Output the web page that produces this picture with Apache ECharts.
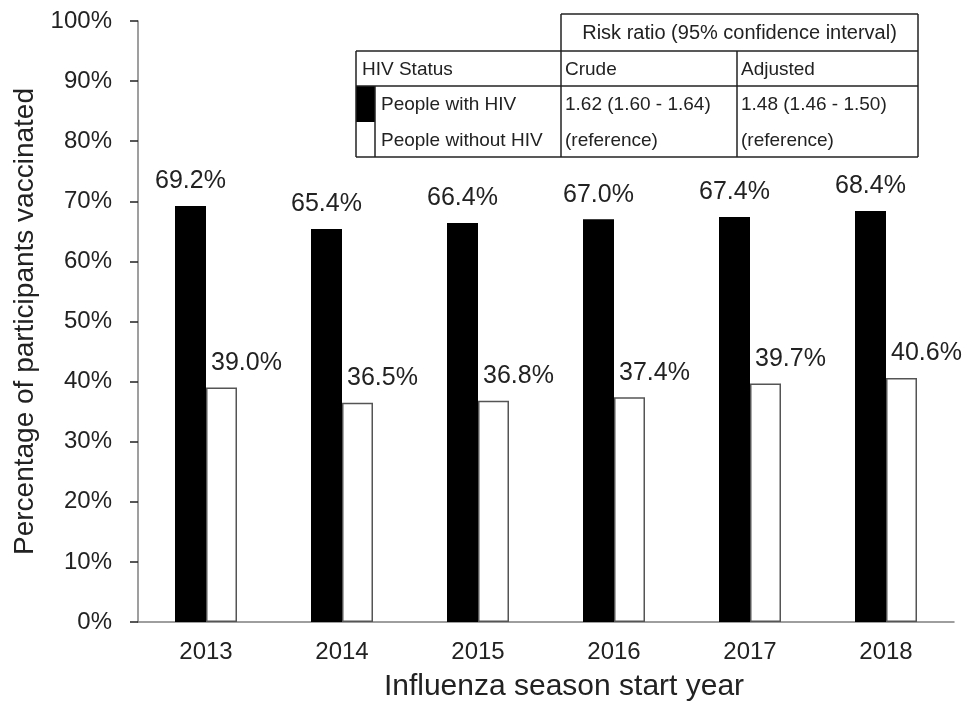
<!DOCTYPE html>
<html>
<head>
<meta charset="utf-8">
<script src="https://cdn.jsdelivr.net/npm/echarts@6/dist/echarts.min.js"></script>
<style>
  html, body { margin: 0; padding: 0; background: #fff; }
  #chart { width: 967px; height: 707px; }
</style>
</head>
<body>
<div id="chart"></div>
<script>
const years = ['2013', '2014', '2015', '2016', '2017', '2018'];
const withHiv = [69.2, 65.4, 66.4, 67.0, 67.4, 68.4];
const withoutHiv = [39.0, 36.5, 36.8, 37.4, 39.7, 40.6];

// table next to the bars (risk ratios)
const tableHeader = 'Risk ratio (95% confidence interval)';
const tableColumns = ['HIV Status', 'Crude', 'Adjusted'];
const tableRows = [
  ['People with HIV', '1.62 (1.60 - 1.64)', '1.48 (1.46 - 1.50)'],
  ['People without HIV', '(reference)', '(reference)'],
];

const FONT = 'Liberation Sans, Arial, sans-serif';
const chart = echarts.init(document.getElementById('chart'));

// table geometry in px
const tx = [356, 375, 561, 737, 918];
const ty = [14, 51, 86, 122, 157];
const line = (x1, y1, x2, y2) => ({
  type: 'line',
  shape: { x1, y1, x2, y2 },
  style: { stroke: '#222', lineWidth: 1.5 },
});
const txt = (x, y, s, align, size) => ({
  type: 'text',
  x,
  y,
  style: {
    text: s,
    font: (size || 19) + 'px ' + FONT,
    fill: '#222',
    align: align || 'left',
    verticalAlign: 'middle',
  },
});

const tableGraphics = [
  // swatches
  { type: 'rect', shape: { x: tx[0], y: ty[2], width: tx[1] - tx[0], height: ty[3] - ty[2] }, style: { fill: '#000' } },
  { type: 'rect', shape: { x: tx[0], y: ty[3], width: tx[1] - tx[0], height: ty[4] - ty[3] }, style: { fill: '#fff' } },
  // horizontal lines
  line(tx[2], ty[0], tx[4], ty[0]),
  line(tx[0], ty[1], tx[4], ty[1]),
  line(tx[0], ty[2], tx[4], ty[2]),
  line(tx[0], ty[4], tx[4], ty[4]),
  // vertical lines
  line(tx[0], ty[1], tx[0], ty[4]),
  line(tx[1], ty[2], tx[1], ty[4]),
  line(tx[2], ty[0], tx[2], ty[4]),
  line(tx[3], ty[1], tx[3], ty[4]),
  line(tx[4], ty[0], tx[4], ty[4]),
  // texts
  txt((tx[2] + tx[4]) / 2, (ty[0] + ty[1]) / 2 + 1, tableHeader, 'center', 20),
  txt(tx[0] + 6, (ty[1] + ty[2]) / 2 + 1, tableColumns[0]),
  txt(tx[2] + 4, (ty[1] + ty[2]) / 2 + 1, tableColumns[1]),
  txt(tx[3] + 4, (ty[1] + ty[2]) / 2 + 1, tableColumns[2]),
];
tableRows.forEach((row, i) => {
  const cy = (ty[2 + i] + ty[3 + i]) / 2 + 1;
  tableGraphics.push(txt(tx[1] + 6, cy, row[0]));
  tableGraphics.push(txt(tx[2] + 4, cy, row[1]));
  tableGraphics.push(txt(tx[3] + 4, cy, row[2]));
});

const option = {
  backgroundColor: '#fff',
  animation: false,
  textStyle: { fontFamily: FONT },
  grid: { left: 138, right: 13, top: 21, bottom: 84 },
  xAxis: {
    type: 'category',
    data: years,
    name: 'Influenza season start year',
    nameLocation: 'middle',
    nameGap: 50,
    nameTextStyle: { fontSize: 30, color: '#222', padding: [0, 0, 0, 36] },
    axisLine: { lineStyle: { color: '#7f7f7f', width: 1.5 } },
    axisTick: { alignWithLabel: true, length: 6, lineStyle: { color: '#222', width: 1.5 } },
    axisLabel: { fontSize: 24, color: '#222', margin: 18 },
  },
  yAxis: {
    type: 'value',
    min: 0,
    max: 100,
    interval: 10,
    name: 'Percentage of participants vaccinated',
    nameLocation: 'middle',
    nameGap: 98,
    nameTextStyle: { fontSize: 28, color: '#222' },
    axisLine: { show: true, lineStyle: { color: '#7f7f7f', width: 1.5 } },
    axisTick: { show: true, length: 8, lineStyle: { color: '#222', width: 1.5 } },
    axisLabel: { fontSize: 24, color: '#222', margin: 26, formatter: '{value}%' },
    splitLine: { show: false },
  },
  series: [
    {
      name: 'People with HIV',
      type: 'bar',
      data: withHiv,
      barWidth: 31,
      barGap: '0%',
      itemStyle: { color: '#000' },
      label: {
        show: true,
        position: 'top',
        distance: 12,
        fontSize: 25,
        color: '#222',
        formatter: (p) => p.value.toFixed(1) + '%',
      },
    },
    {
      name: 'People without HIV',
      type: 'bar',
      data: withoutHiv,
      barWidth: 31,
      barGap: '0%',
      itemStyle: { color: '#fff', borderColor: '#555', borderWidth: 1.5 },
      label: {
        show: true,
        position: 'top',
        distance: 12,
        offset: [25, 0],
        fontSize: 25,
        color: '#222',
        formatter: (p) => p.value.toFixed(1) + '%',
      },
    },
  ],
  graphic: tableGraphics,
};

chart.setOption(option);
</script>
</body>
</html>
